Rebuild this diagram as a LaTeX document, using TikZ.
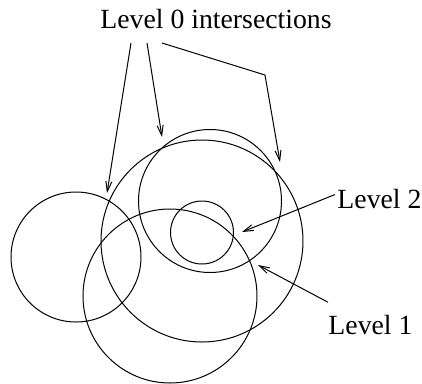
\documentclass[tikz,border=0pt]{standalone}
\usepackage{fontspec}
\setmainfont{Liberation Serif}
\usetikzlibrary{arrows.meta}

\begin{document}
\begin{tikzpicture}[
    x=0.4pt, y=-0.4pt,
    ring/.style={draw, line width=0.4pt},
    lbl/.style={font=\fontsize{11.1}{13}\selectfont, inner sep=0pt},
    arr/.style={-{Straight Barb[length=4pt, width=2.4pt]}, line width=0.4pt}
  ]
    \useasboundingbox (0,0) rectangle (422,383);
    % circles
    \draw[ring] (76,257) circle (65);
    \draw[ring] (202,241) circle (101);
    \draw[ring] (210,201) circle (71.5);
    \draw[ring] (170,296) circle (87);
    \draw[ring] (202,232.5) circle (31.5);
    % labels
    \node[lbl, anchor=base] (lev0) at (216,28) {Level 0 intersections};
    \node[lbl, anchor=base west] (lev2) at (337,208) {Level 2};
    \node[lbl, anchor=base west] (lev1) at (328,334) {Level 1};
    % arrow ends
    \coordinate (s1) at (131,43);
    \coordinate (s2) at (147,43);
    \coordinate (s3) at (162,43);
    \coordinate (bend) at (265,75);
    \coordinate (t1) at (107,193);
    \coordinate (t2) at (162,137);
    \coordinate (t3) at (280,162);
    \coordinate (t4) at (242,232);
    \coordinate (t5) at (258,265);
    \draw[arr] (s1) -- (t1);
    \draw[arr] (s2) -- (t2);
    \draw[arr] (s3) -- (bend) -- (t3);
    \draw[arr] (lev2.west) ++(-2,-4) -- (t4);
    \draw[arr] (lev1.north west) ++(0,-12) -- (t5);
  \end{tikzpicture}
\end{document}
